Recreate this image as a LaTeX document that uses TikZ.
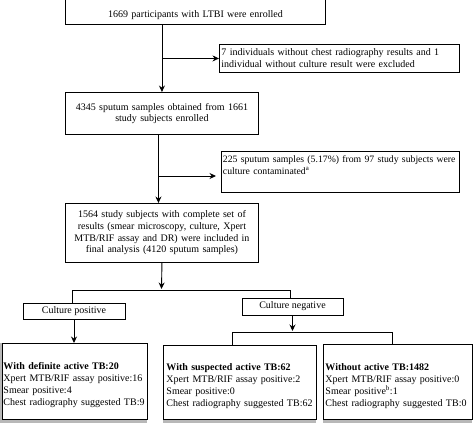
\documentclass[tikz,border=0pt]{standalone}
\usepackage{fontspec}
\setmainfont{Liberation Serif}
\usetikzlibrary{arrows.meta}
\begin{document}
\begin{tikzpicture}[x=1pt,y=-1pt,
  box/.style={draw, line width=0.9pt, inner xsep=2pt, inner ysep=0pt, font=\fontsize{10}{12}\selectfont},
  arr/.style={line width=0.9pt, -{Stealth[length=6.5pt,width=6pt]}},
  con/.style={line width=0.9pt},
  shade/.style={fill=black!28}]
\useasboundingbox (0,0) rectangle (474,423);
\clip (0,0) rectangle (474,423);
% grey shadow strips under the bottom boxes
\fill[shade] (0,343) rectangle (2,423);
\fill[shade] (0,419.5) rectangle (147,423);
\fill[shade] (163,419.5) rectangle (316,423);
\fill[shade] (323,419.5) rectangle (472,423);

\node[box, anchor=south west, inner ysep=5pt, text width=256, align=center] (b1) at (65,25)
  {\rule{0pt}{40pt}1669 participants with LTBI were enrolled};
\node[box, anchor=north west, minimum height=28, text width=236, align=left] (b2) at (219,44)
  {7 individuals without chest radiography results and 1\\individual without culture result were excluded};
\node[box, anchor=north west, minimum height=42, text width=189, align=center, font=\fontsize{10}{11.5}\selectfont] (b3) at (65,92)
  {4345 sputum samples obtained from 1661\\study subjects enrolled};
\node[box, anchor=north west, inner ysep=4pt, inner xsep=1.5pt, text width=235, align=left, font=\fontsize{9.75}{12}\selectfont] (b4) at (221,151)
  {\mbox{225 sputum samples (5.17\%) from 97 study subjects were}\\culture contaminated\textsuperscript{a}\rule[-14pt]{0pt}{14pt}};
\node[box, anchor=north west, minimum height=59, text width=189, align=center, font=\fontsize{10}{11.7}\selectfont] (b5) at (65,203)
  {1564 study subjects with complete set of\\results (smear microscopy, culture, Xpert\\MTB/RIF assay and DR) were included in\\final analysis (4120 sputum samples)};
\node[box, minimum width=102, minimum height=16] (cp) at (74,311) {Culture positive};
\node[box, minimum width=101, minimum height=17] (cn) at (292.5,306.5) {Culture negative};
\node[box, anchor=north west, minimum height=76, inner xsep=1pt, text width=143, align=left] (b6) at (2,343)
  {\rule{0pt}{15pt}\textbf{With definite active TB:20}\\Xpert MTB/RIF assay positive:16\\Smear positive:4\\Chest radiography suggested TB:9};
\node[box, anchor=north west, minimum height=74, inner xsep=3pt, text width=147, align=left] (b7) at (163,345)
  {\rule{0pt}{15pt}\textbf{With suspected active TB:62}\\Xpert MTB/RIF assay positive:2\\Smear positive:0\\Chest radiography suggested TB:62};
\node[box, anchor=north west, minimum height=75, inner xsep=2pt, text width=145, align=left] (b8) at (323,344)
  {\rule{0pt}{15pt}\textbf{Without active TB:1482}\\Xpert MTB/RIF assay positive:0\\Smear positive\textsuperscript{b}:1\\Chest radiography suggested TB:0};

% connectors
\draw[arr] (b3.north |- b1.south) -- (b3.north);
\draw[arr] (b3.north |- b2.west) -- (b2.west);
\draw[arr] ([xshift=-3.5]b3.south) -- ([xshift=-3.5]b5.north);
\coordinate (j2) at (158,176);
\draw[arr, shorten >=5pt] (j2) -- (j2 -| b4.west);
\coordinate (s1) at (161.5,290);
\draw[arr] (b5.south) -- ([yshift=1]s1);
\draw[con] ([xshift=-2]cp.north) -- ([xshift=-2]cp.north |- s1) -- ([xshift=-2.5]cn.north |- s1) -- ([xshift=-2.5]cn.north);
\draw[arr] (cp.south) -- (cp.south |- b6.north);
\coordinate (s2) at (292.5,332);
\draw[arr] (cn.south) -- ([yshift=1]s2);
\draw[con] ([xshift=-7.5]b7.north) -- ([xshift=-7.5]b7.north |- s2) -- ([xshift=-5.5]b8.north |- s2) -- ([xshift=-5.5]b8.north);
\end{tikzpicture}
\end{document}
